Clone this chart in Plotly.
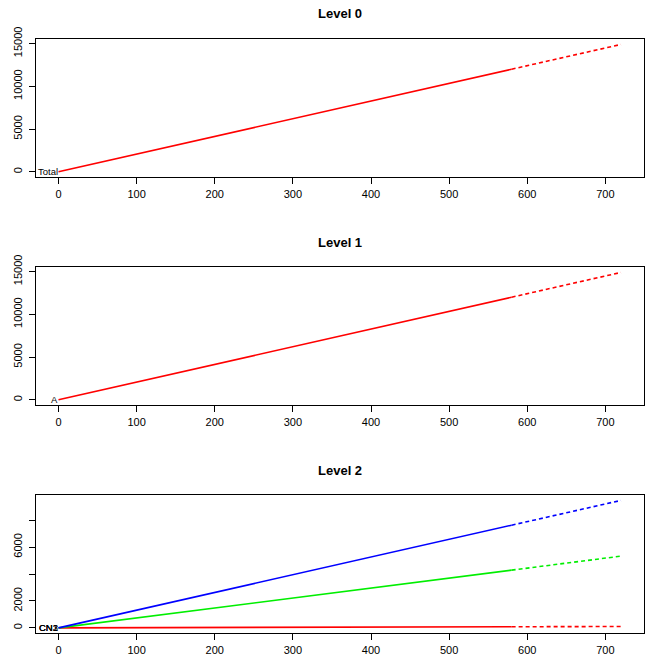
import plotly.graph_objects as go

W, H = 646, 666

# ---- data ----
hist_t = [0, 100, 200, 300, 400, 500, 580]
fc_t = [580, 600, 700, 720]

total_hist = [0, 2070, 4140, 6210, 8280, 10350, 12000]
total_fc = [12000, 12420, 14490, 14900]

a_hist = [0, 2070, 4140, 6210, 8280, 10350, 12000]
a_fc = [12000, 12420, 14490, 14900]

l2_names = ["CN1", "CN2", "CN3"]
l2_colors = ["red", "#00ee00", "blue"]
l2_hist = [
    [0, 14, 28, 42, 56, 70, 81],
    [0, 740, 1480, 2220, 2960, 3700, 4290],
    [0, 1315, 2630, 3945, 5260, 6575, 7630],
]
l2_fc = [
    [81, 84, 98, 101],
    [4290, 4440, 5180, 5330],
    [7630, 7890, 9205, 9470],
]

titles = ["Level 0", "Level 1", "Level 2"]
x_ticks = [0, 100, 200, 300, 400, 500, 600, 700]
y_ticks_top = [0, 5000, 10000, 15000]
y_ticks_l2 = [0, 2000, 4000, 6000, 8000]
y_ticktext_l2 = ["0", "2000", "", "6000", ""]

# ---- layout geometry (pixels) ----
box_x = (36, 643.5)
boxes_y = [(39.3, 176.9), (267.3, 404.9), (495.3, 632.9)]
title_y = [14, 242, 470]
xrange = [-28.8, 748.8]
yranges = [[-600, 15500], [-600, 15500], [-375, 9850]]

FONT = "Liberation Sans, Arial, sans-serif"

fig = go.Figure()


def px_to_domain_y(top, bottom):
    return [1 - bottom / H, 1 - top / H]


def add_series(idx, t_h, v_h, t_f, v_f, color):
    xa = "x" if idx == 0 else f"x{idx+1}"
    ya = "y" if idx == 0 else f"y{idx+1}"
    fig.add_trace(go.Scatter(x=t_h, y=v_h, mode="lines", xaxis=xa, yaxis=ya,
                             line=dict(color=color, width=1.6), showlegend=False,
                             hoverinfo="skip"))
    fig.add_trace(go.Scatter(x=t_f, y=v_f, mode="lines", xaxis=xa, yaxis=ya,
                             line=dict(color=color, width=1.6, dash="4px,3px"),
                             showlegend=False, hoverinfo="skip"))


add_series(0, hist_t, total_hist, fc_t, total_fc, "red")
add_series(1, hist_t, a_hist, fc_t, a_fc, "red")
for k in range(3):
    add_series(2, hist_t, l2_hist[k], fc_t, l2_fc[k], l2_colors[k])

layout = dict(
    width=W, height=H, margin=dict(l=0, r=0, t=0, b=0, autoexpand=False),
    paper_bgcolor="white", plot_bgcolor="white",
    font=dict(family=FONT, size=11, color="black"),
    annotations=[], showlegend=False,
)

for i in range(3):
    suf = "" if i == 0 else str(i + 1)
    top, bottom = boxes_y[i]
    ax_common = dict(showgrid=False, zeroline=False, showline=True, mirror=True,
                     linecolor="black", linewidth=1.2, ticks="outside",
                     ticklen=6, tickwidth=1, tickcolor="black", automargin=False,
                     tickfont=dict(family=FONT, size=11, color="black"))
    layout["xaxis" + suf] = dict(
        ax_common, domain=[box_x[0] / W, box_x[1] / W], range=xrange,
        tickmode="array", tickvals=x_ticks, ticktext=[str(v) for v in x_ticks],
        anchor="y" + suf, ticklabelstandoff=1)
    if i < 2:
        yt, ytt = y_ticks_top, [str(v) for v in y_ticks_top]
    else:
        yt, ytt = y_ticks_l2, y_ticktext_l2
    layout["yaxis" + suf] = dict(
        ax_common, domain=px_to_domain_y(top, bottom), range=yranges[i],
        tickmode="array", tickvals=yt, ticktext=ytt, tickangle=-90,
        anchor="x" + suf, ticklabelstandoff=3)
    layout["annotations"].append(dict(
        text="<b>" + titles[i] + "</b>", xref="paper", yref="paper",
        x=(box_x[0] + box_x[1]) / 2 / W, y=1 - title_y[i] / H,
        xanchor="center", yanchor="middle", showarrow=False,
        font=dict(family=FONT, size=13, color="black")))

# series name labels at the start of each series
label_font = dict(family=FONT, size=9.5, color="black")
layout["annotations"].append(dict(text="Total", x=hist_t[0], y=total_hist[0], xref="x", yref="y",
                                  xanchor="right", yanchor="middle", showarrow=False,
                                  font=label_font, xshift=1))
layout["annotations"].append(dict(text="A", x=hist_t[0], y=a_hist[0], xref="x2", yref="y2",
                                  xanchor="right", yanchor="middle", showarrow=False,
                                  font=label_font, xshift=1))
for k in range(3):
    layout["annotations"].append(dict(text=l2_names[k], x=hist_t[0], y=l2_hist[k][0],
                                      xref="x3", yref="y3", xanchor="right", yanchor="middle",
                                      showarrow=False, font=label_font, xshift=1))

fig.update_layout(**layout)
fig.write_html(
    "out.html",
    config={"displayModeBar": False},
    post_script=(
        "document.body.style.margin='0px';document.body.style.padding='0px';"
        "var gd=document.getElementById('{plot_id}');"
        "gd.style.position='absolute';gd.style.top='0px';gd.style.left='0px';"
    ),
)
